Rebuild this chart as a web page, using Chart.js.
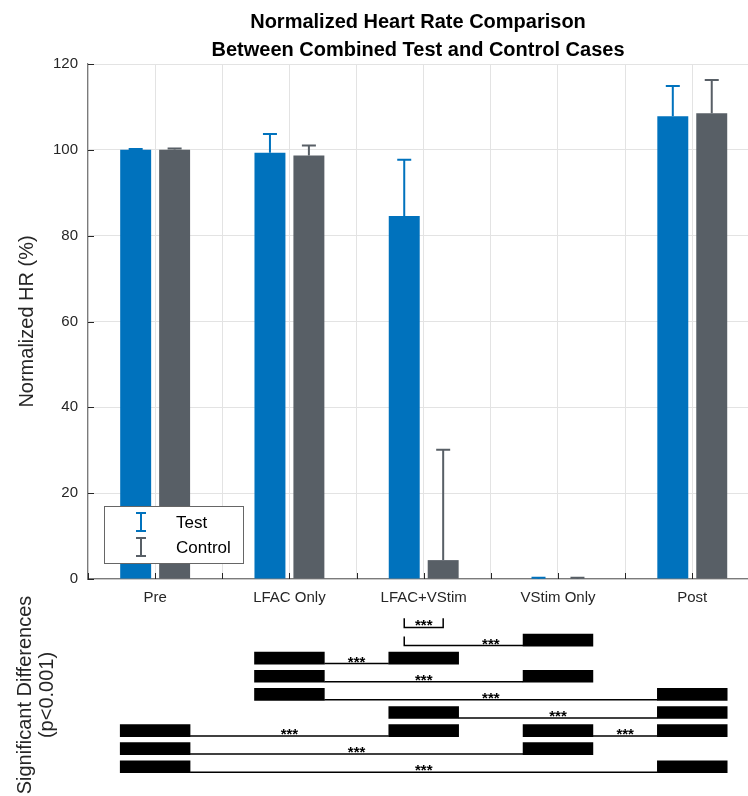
<!DOCTYPE html>
<html lang="en">
<head>
  <meta charset="UTF-8">
  <title>Normalized Heart Rate Comparison</title>
  <script src="https://cdn.jsdelivr.net/npm/chart.js"></script>
  <style>
    html, body { margin: 0; padding: 0; background: #fff; overflow: hidden; }
    #wrap { position: relative; width: 748px; height: 796px; }
    #hrBox { position: absolute; left: 0; top: 0; width: 748px; height: 610px; }
    #sigBox { position: absolute; left: 0; top: 580px; width: 748px; height: 230px; }
  </style>
</head>
<body>
<div id="wrap">
  <div id="hrBox"><canvas id="hrChart"></canvas></div>
  <div id="sigBox"><canvas id="sigChart"></canvas></div>
</div>
<script>
// categories and values
const categories = ["Pre", "LFAC Only", "LFAC+VStim", "VStim Only", "Post"];
const testMean = [100.0, 99.3, 84.6, 0.0, 107.8];
const testErr = [0.2, 4.4, 13.1, 0.3, 7.1];
const controlMean = [100.0, 98.7, 4.4, 0.0, 108.5];
const controlErr = [0.3, 2.3, 25.7, 0.3, 7.8];
const yTicks = [0, 20, 40, 60, 80, 100, 120];

// significance comparisons (p<0.001): row, compared categories, and which bar when only one bar is compared
const sigRow = [0, 1, 2, 3, 4, 5, 6, 6, 7, 8];
const sigFrom = [3, 3, 2, 2, 2, 3, 1, 4, 1, 1];
const sigTo = [3, 4, 3, 4, 5, 5, 3, 5, 4, 5];
const sigFromBar = ["Test", "Test", null, null, null, null, null, null, null, null];
const sigToBar = ["Control", null, null, null, null, null, null, null, null, null];
const sigLabel = "***";

const BLUE = "#0072bd";
const GREY = "#585f66";
const AXIS = "#7b7b7b";
const TEXT = "#262626";
const FONT = "'Liberation Sans', Arial, Helvetica, sans-serif";
const XMIN = 0.5, XMAX = 5.415;
const BAR_SHIFT = 0.145;   // half distance between test and control bar centres
const BLOCK_HALF = 0.26;

Chart.defaults.font.family = FONT;
Chart.defaults.color = TEXT;

function xTicks(scale) {
  const t = [];
  for (let v = 0.5; v <= 5.0001; v += 0.5) t.push({ value: v });
  scale.ticks = t;
}

function noPad(s) {
  s.paddingLeft = 0; s.paddingRight = 0; s.paddingTop = 0; s.paddingBottom = 0;
}

// error bars (upper side only), matlab style inward ticks, legend
const hrExtras = {
  id: "hrExtras",
  afterDatasetsDraw(chart) {
    const ctx = chart.ctx;
    const ys = chart.scales.y, xs = chart.scales.x;
    const area = chart.chartArea;
    const errs = [testErr, controlErr];
    const cols = [BLUE, GREY];
    ctx.save();
    chart.data.datasets.forEach((ds, d) => {
      const meta = chart.getDatasetMeta(d);
      meta.data.forEach((bar, i) => {
        const top = ys.getPixelForValue(ds.data[i].y);
        const hi = ys.getPixelForValue(ds.data[i].y + errs[d][i]);
        ctx.strokeStyle = cols[d];
        ctx.lineWidth = 2;
        ctx.beginPath();
        ctx.moveTo(bar.x, top);
        ctx.lineTo(bar.x, hi);
        ctx.moveTo(bar.x - 7, hi);
        ctx.lineTo(bar.x + 7, hi);
        ctx.stroke();
      });
    });
    // inward ticks
    ctx.strokeStyle = TEXT;
    ctx.lineWidth = 1;
    ctx.beginPath();
    xs.ticks.forEach(t => {
      const px = Math.round(xs.getPixelForValue(t.value)) + 0.5;
      ctx.moveTo(px, area.bottom);
      ctx.lineTo(px, area.bottom - 6);
    });
    ys.ticks.forEach(t => {
      const py = Math.round(ys.getPixelForValue(t.value)) + 0.5;
      ctx.moveTo(area.left, py);
      ctx.lineTo(area.left + 6, py);
    });
    ctx.stroke();

    // legend box
    const lx = area.left + 16, ly = area.bottom - 73, lw = 139, lh = 57;
    ctx.fillStyle = "#fff";
    ctx.fillRect(lx, ly, lw, lh);
    ctx.strokeStyle = "#666";
    ctx.lineWidth = 1;
    ctx.strokeRect(lx + 0.5, ly + 0.5, lw, lh);
    const names = chart.data.datasets.map(ds => ds.label);
    names.forEach((name, k) => {
      const cy = ly + 16 + k * 25;
      const cx = lx + 37;
      ctx.strokeStyle = cols[k];
      ctx.lineWidth = 2;
      ctx.beginPath();
      ctx.moveTo(cx, cy - 9); ctx.lineTo(cx, cy + 9);
      ctx.moveTo(cx - 5, cy - 9); ctx.lineTo(cx + 5, cy - 9);
      ctx.moveTo(cx - 5, cy + 9); ctx.lineTo(cx + 5, cy + 9);
      ctx.stroke();
      ctx.fillStyle = "#000";
      ctx.font = "17px " + FONT;
      ctx.textBaseline = "middle";
      ctx.textAlign = "left";
      ctx.fillText(name, lx + 72, cy + 1);
    });
    ctx.restore();
  }
};

new Chart(document.getElementById("hrChart"), {
  type: "bar",
  data: {
    datasets: [
      { label: "Test", data: testMean.map((v, i) => ({ x: i + 1, y: v })), backgroundColor: BLUE },
      { label: "Control", data: controlMean.map((v, i) => ({ x: i + 1, y: v })), backgroundColor: GREY }
    ]
  },
  options: {
    responsive: true,
    maintainAspectRatio: false,
    animation: false,
    events: [],
    categoryPercentage: 1.16,
    barPercentage: 0.795,
    layout: { padding: { left: 0, right: 0, top: 0, bottom: 0 } },
    plugins: {
      legend: { display: false },
      tooltip: { enabled: false },
      title: {
        display: true,
        fullSize: false,
        text: ["Normalized Heart Rate Comparison", "Between Combined Test and Control Cases"],
        color: "#000",
        font: { size: 20, weight: "bold", lineHeight: 1.4 },
        padding: { top: 8, bottom: 0 }
      }
    },
    scales: {
      x: {
        type: "linear",
        min: XMIN,
        max: XMAX,
        offset: false,
        afterBuildTicks: xTicks,
        afterFit: s => { s.height = 31; },
        grid: { color: "#e3e3e3", drawTicks: false, offset: false },
        border: { color: AXIS, width: 1.2 },
        ticks: {
          padding: 10,
          font: { size: 15 },
          color: TEXT,
          maxRotation: 0,
          autoSkip: false,
          callback: v => Number.isInteger(v) ? categories[v - 1] : ""
        }
      },
      y: {
        min: 0,
        max: 120,
        afterBuildTicks: s => { s.ticks = yTicks.map(v => ({ value: v })); },
        afterFit: s => { s.width = 88; },
        grid: { color: "#e3e3e3", drawTicks: false },
        border: { color: AXIS, width: 1.2 },
        ticks: { padding: 10, font: { size: 15 }, color: TEXT },
        title: {
          display: true,
          text: "Normalized HR (%)",
          color: TEXT,
          font: { size: 20, lineHeight: 1.2 },
          padding: { top: 15, bottom: 0 }
        }
      }
    }
  },
  plugins: [hrExtras]
});

// significance panel
function endX(cat, bar, side) {
  if (bar === "Test") return cat - BAR_SHIFT;
  if (bar === "Control") return cat + BAR_SHIFT;
  return cat + side * BLOCK_HALF;
}

const blocks = [];
sigRow.forEach((r, i) => {
  if (!sigFromBar[i]) blocks.push({ y: r, x: [sigFrom[i] - BLOCK_HALF, sigFrom[i] + BLOCK_HALF] });
  if (!sigToBar[i]) blocks.push({ y: r, x: [sigTo[i] - BLOCK_HALF, sigTo[i] + BLOCK_HALF] });
});

const links = sigRow.map((r, i) => {
  const a = endX(sigFrom[i], sigFromBar[i], 1);
  const b = endX(sigTo[i], sigToBar[i], -1);
  const pts = [];
  if (sigFromBar[i]) pts.push({ x: a, y: r - 0.2 });
  pts.push({ x: a, y: r + 0.3 });
  pts.push({ x: b, y: r + 0.3 });
  if (sigToBar[i]) pts.push({ x: b, y: r - 0.2 });
  return {
    type: "line",
    data: pts,
    borderColor: "#000",
    borderWidth: 1.5,
    pointRadius: 0,
    tension: 0,
    fill: false
  };
});

const sigText = {
  id: "sigText",
  afterDatasetsDraw(chart) {
    const ctx = chart.ctx;
    const xs = chart.scales.x, ys = chart.scales.y;
    ctx.save();
    ctx.fillStyle = "#000";
    ctx.font = "bold 15px " + FONT;
    ctx.textAlign = "center";
    ctx.textBaseline = "alphabetic";
    sigRow.forEach((r, i) => {
      const px = xs.getPixelForValue((sigFrom[i] + sigTo[i]) / 2);
      const py = ys.getPixelForValue(r + 0.3) + 3;
      ctx.fillText(sigLabel, px, py);
    });
    ctx.restore();
  }
};

new Chart(document.getElementById("sigChart"), {
  type: "bar",
  data: {
    datasets: [
      {
        type: "bar",
        indexAxis: "y",
        data: blocks,
        backgroundColor: "#000",
        barThickness: 12,
        borderWidth: 0
      },
      ...links
    ]
  },
  options: {
    responsive: true,
    maintainAspectRatio: false,
    animation: false,
    events: [],
    layout: { padding: 0 },
    plugins: { legend: { display: false }, tooltip: { enabled: false } },
    scales: {
      x: {
        type: "linear",
        min: XMIN,
        max: XMAX,
        offset: false,
        display: false,
        ticks: { display: false },
        afterFit: noPad
      },
      y: {
        type: "linear",
        min: -2.32,
        max: 10.39,
        reverse: true,
        offset: false,
        afterFit: s => { noPad(s); s.width = 88; },
        grid: { display: false },
        border: { display: false },
        ticks: { display: false },
        title: {
          display: true,
          text: ["Significant Differences", "(p<0.001)"],
          color: TEXT,
          font: { size: 20, lineHeight: 1.1 },
          padding: { top: 14, bottom: 0 }
        }
      }
    }
  },
  plugins: [sigText]
});
</script>
</body>
</html>
